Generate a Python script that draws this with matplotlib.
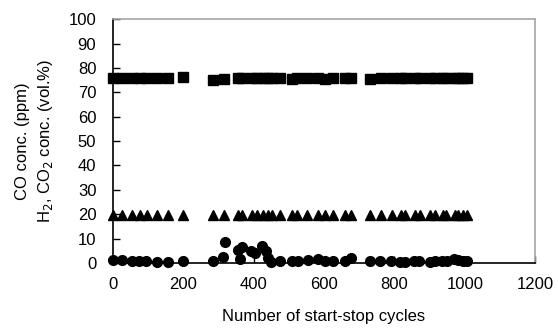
import matplotlib
matplotlib.use('Agg')
import matplotlib.pyplot as plt

plt.rcParams['font.family'] = ['Liberation Sans', 'DejaVu Sans']

# ── Data ─────────────────────────────────────────────────────────────────────
cycles_gas = [0, 25, 55, 77, 96, 124, 155, 200, 285, 315, 356, 366, 394, 408,
              427, 441, 451, 474, 508, 522, 552, 583, 602, 626, 660, 678, 730,
              763, 792, 820, 830, 858, 872, 901, 915, 938, 948, 972, 981, 995, 1005]
h2 = [75.8, 75.8, 75.8, 75.8, 75.8, 75.8, 75.9, 76.1, 74.9, 75.6, 75.7, 75.8,
      75.7, 75.8, 75.9, 76.0, 75.9, 75.8, 75.6, 75.9, 75.8, 76.0, 75.5, 75.8,
      75.7, 75.9, 75.4, 75.9, 75.9, 75.9, 75.9, 75.9, 75.9, 75.9, 75.9, 75.9,
      75.9, 75.9, 75.9, 75.9, 75.9]
co2 = [19.7, 19.7, 19.7, 19.6, 19.6, 19.6, 19.8, 19.5, 19.6, 19.7, 19.6, 19.7,
       19.6, 19.7, 19.7, 19.7, 19.7, 19.6, 19.6, 19.6, 19.6, 19.6, 19.6, 19.6,
       19.6, 19.6, 19.6, 19.6, 19.6, 19.6, 19.6, 19.6, 19.6, 19.6, 19.6, 19.6,
       19.6, 19.6, 19.6, 19.6, 19.6]

cycles_co = [0, 25, 55, 75, 95, 125, 155, 200, 285, 312, 318, 356, 361, 366,
             391, 403, 425, 435, 441, 449, 474, 510, 525, 555, 583, 602, 626,
             660, 678, 730, 760, 790, 815, 830, 855, 870, 900, 915, 935, 950,
             970, 980, 995, 1005]
co = [1.2, 1.2, 0.9, 1.0, 0.9, 0.5, 0.5, 0.8, 1.0, 2.6, 8.5, 5.3, 1.6, 6.7,
      4.9, 4.2, 7.1, 4.9, 1.9, 0.5, 0.8, 0.8, 0.8, 1.4, 1.5, 0.8, 1.0, 1.0,
      2.0, 1.0, 1.0, 1.0, 0.6, 0.6, 1.0, 1.0, 0.5, 0.8, 0.9, 1.0, 1.6, 1.4,
      1.0, 1.0]

# ── Plot ─────────────────────────────────────────────────────────────────────
fig = plt.figure(figsize=(5.58, 3.30), dpi=100)
ax = fig.add_axes([0.2025, 0.203, 0.7565, 0.739])

ax.plot(cycles_gas, h2, 's', color='black', markersize=6.5, clip_on=False)
ax.plot(cycles_gas, co2, '^', color='black', markersize=6.5, clip_on=False)
ax.plot(cycles_co, co, 'o', color='black', markersize=7, clip_on=False)

ax.set_xlim(0, 1200)
ax.set_ylim(0, 100)
ax.set_xticks(range(0, 1201, 200))
ax.set_yticks(range(0, 101, 10))
ax.tick_params(direction='in', length=5, width=1, labelsize=12, colors='black')
ax.tick_params(axis='y', pad=12)
ax.tick_params(axis='x', pad=10)

for side in ['top', 'right']:
    ax.spines[side].set_color('#a6a6a6')
    ax.spines[side].set_linewidth(1.2)
for side in ['left', 'bottom']:
    ax.spines[side].set_color('black')
    ax.spines[side].set_linewidth(1.2)

ax.set_xlabel('Number of start-stop cycles', fontsize=12, labelpad=12)
ax.set_ylabel('CO conc. (ppm)\nH$_2$, CO$_2$ conc. (vol.%)', fontsize=12,
              labelpad=10, linespacing=1.4)

fig.savefig('out.png', dpi=100)
